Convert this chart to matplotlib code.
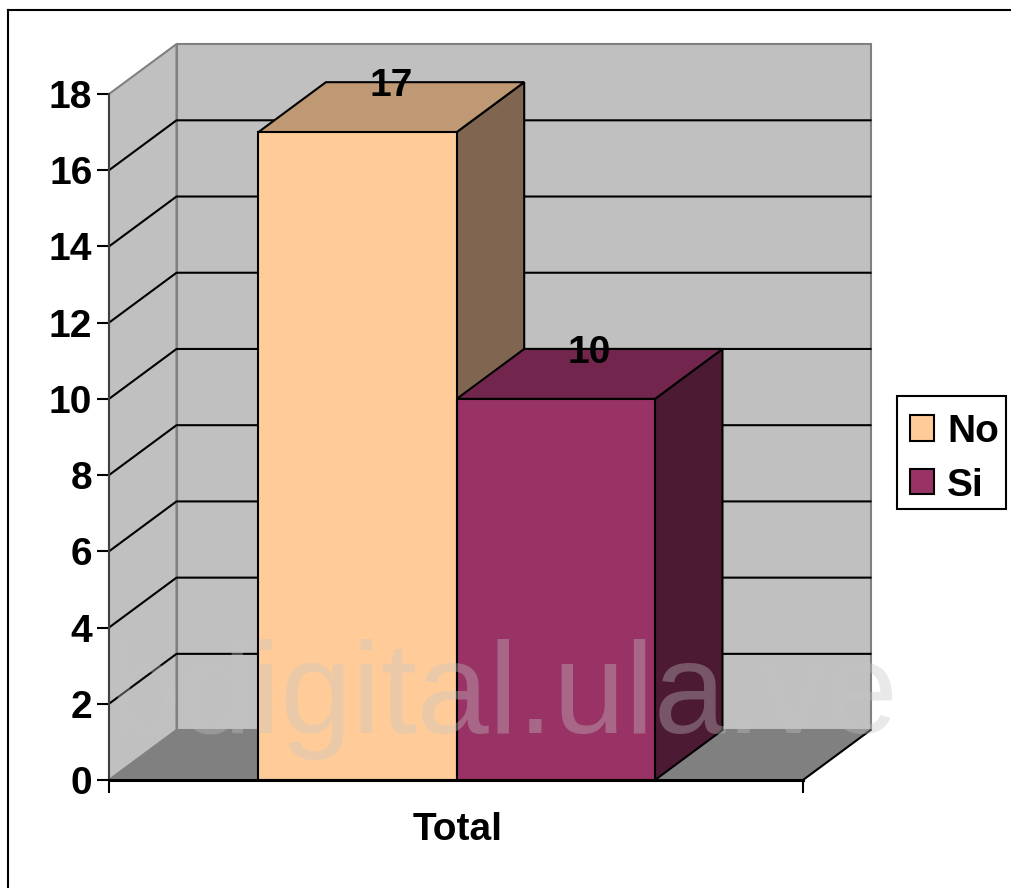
import matplotlib
matplotlib.use('Agg')
import matplotlib.pyplot as plt
from matplotlib.patches import Polygon, Patch, Rectangle
from matplotlib.lines import Line2D

plt.rcParams['font.family'] = ['Liberation Sans', 'DejaVu Sans']

# datos
series = ['No', 'Si']
valores = [17, 10]
categoria = 'Total'
yticks = [0, 2, 4, 6, 8, 10, 12, 14, 16, 18]
marca_agua = 'bdigital.ula.ve'

# colores: frente, tapa, lado
frente = ['#FFCC99', '#993366']
tapa = ['#BF9973', '#73264D']
lado = ['#806650', '#4D1A33']
muro = '#C0C0C0'
piso = '#808080'
borde = '#808080'

# profundidad del efecto 3D en unidades de datos
dx = 67.5 / 694
dy = 50 / 38.17
ancho = 0.2857
fs = 28

W, H = 1012, 888
fig = plt.figure(figsize=(W / 100, H / 100), dpi=100)
ax = fig.add_axes([109 / W, (H - 780) / H, 694 / W, 686 / H])
ax.set_xlim(0, 1)
ax.set_ylim(0, 18)
ax.patch.set_alpha(0)


def poly(pts, color, ec='none', lw=0, z=1):
    ax.add_patch(Polygon(pts, closed=True, facecolor=color, edgecolor=ec,
                         linewidth=lw, clip_on=False, zorder=z))


# paredes y piso
poly([(dx, dy), (1 + dx, dy), (1 + dx, 18 + dy), (dx, 18 + dy)], muro, borde, 1.5)
poly([(0, 0), (dx, dy), (dx, 18 + dy), (0, 18)], muro, borde, 1.5)
poly([(0, 0), (1, 0), (1 + dx, dy), (dx, dy)], piso, borde, 1)
ax.plot([1, 1 + dx], [0, dy], color='black', lw=1.5, clip_on=False, zorder=1.5)

# lineas de la cuadricula
for v in yticks[1:-1]:
    ax.plot([0, dx, 1 + dx], [v, v + dy, v + dy], color='black', lw=1.5,
            clip_on=False, zorder=1.5)

# barras
x0 = 0.5 - ancho + 0.001
for i, v in enumerate(valores):
    izq = x0 + i * ancho
    der = izq + ancho
    z = 3 + i
    poly([(der, 0), (der + dx, dy), (der + dx, v + dy), (der, v)], lado[i], 'black', 1.5, z)
    poly([(izq, v), (der, v), (der + dx, v + dy), (izq + dx, v + dy)], tapa[i], 'black', 1.5, z)
    ax.bar(izq, v, ancho, align='edge', color=frente[i], edgecolor='black',
           linewidth=1.5, zorder=z + 0.5, clip_on=False)
    ax.text(izq + ancho / 2 + dx / 2, v + dy, str(v), ha='center', va='center_baseline',
            fontsize=fs, fontweight='bold', color='black', zorder=8, clip_on=False)

# ejes
for s in ['top', 'right']:
    ax.spines[s].set_visible(False)
ax.spines['left'].set_linewidth(1.5)
ax.spines['left'].set_color('#404040')
ax.spines['bottom'].set_linewidth(2.2)
ax.spines['left'].set_zorder(6)
ax.spines['bottom'].set_zorder(6)
ax.set_yticks(yticks)
ax.set_yticklabels([str(t) for t in yticks], fontsize=fs, fontweight='bold')
ax.set_xticks([0, 1])
ax.set_xticklabels(['', ''])
ax.tick_params(axis='both', length=9, width=1.5, color='black')
ax.tick_params(axis='y', pad=3)
ax.set_xlabel(categoria, fontsize=fs, fontweight='bold', labelpad=10.5, x=0.503)

# leyenda, con el recuadro aparte
fig.add_artist(Rectangle((897 / W, 1 - 509 / H), 109 / W, 113 / H, transform=fig.transFigure,
                         facecolor='white', edgecolor='black', linewidth=1.5, zorder=5))
handles = [Patch(facecolor=frente[i], edgecolor='black', linewidth=1.5, label=series[i])
           for i in range(len(series))]
leg = fig.legend(handles=handles, loc='upper left', bbox_to_anchor=(898.5 / W, 1 - 402 / H),
                 borderaxespad=0, frameon=False, handlelength=0.62, handleheight=0.62,
                 handletextpad=0.33, labelspacing=0.46, borderpad=0.3,
                 prop={'weight': 'bold', 'size': fs})
leg.set_zorder(6)

# marco exterior recortado
fig.add_artist(Line2D([8 / W, 8 / W], [0, 1 - 10 / H], color='black', lw=1.5))
fig.add_artist(Line2D([8 / W, 1], [1 - 10 / H, 1 - 10 / H], color='black', lw=1.5))

# marca de agua
fig.text(504 / W, 1 - 733 / H, marca_agua, ha='center', va='baseline', fontsize=93,
         color='#C4C4C4', alpha=0.36, zorder=20)

fig.savefig('out.png', dpi=100)
